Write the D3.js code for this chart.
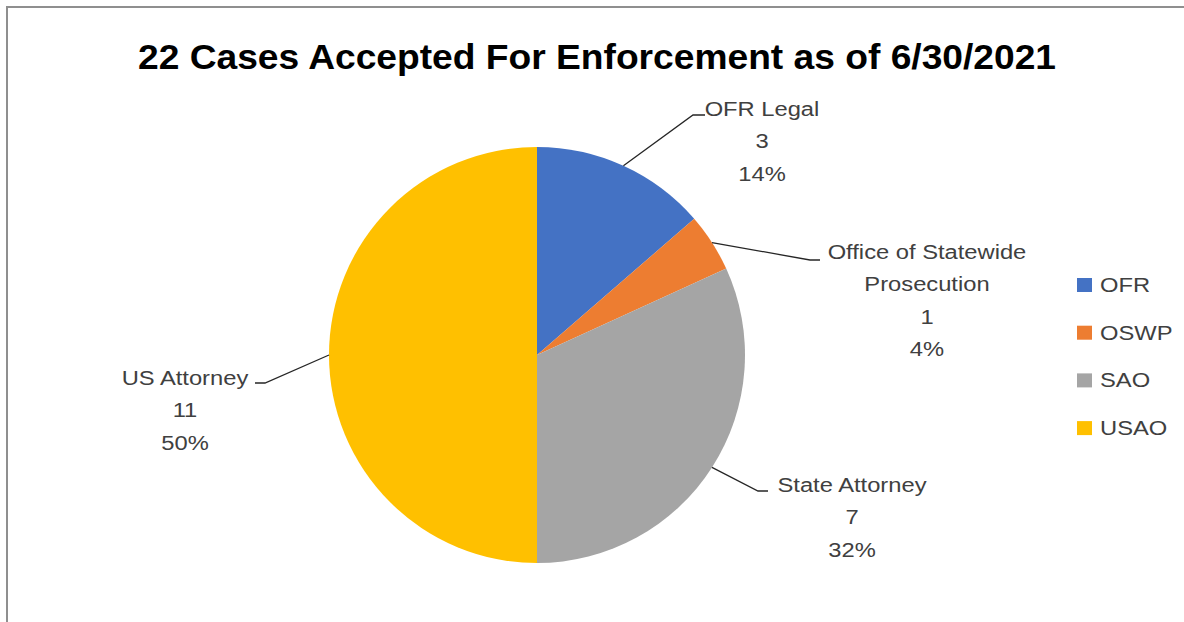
<!DOCTYPE html>
<html>
<head>
<meta charset="utf-8">
<script src="https://cdn.jsdelivr.net/npm/d3@7"></script>
<style>
  html, body { margin: 0; padding: 0; background: #fff; }
  svg { display: block; }
</style>
</head>
<body>
<svg id="chart" width="1184" height="622"></svg>
<script>
// ---- data ----
const categories = ["OFR", "OSWP", "SAO", "USAO"];
const labelNames = [["OFR Legal"], ["Office of Statewide", "Prosecution"], ["State Attorney"], ["US Attorney"]];
const values = [3, 1, 7, 11];
const percentLabels = ["14%", "4%", "32%", "50%"];
const colors = ["#4472C4", "#ED7D31", "#A5A5A5", "#FFC000"];
const titleText = "22 Cases Accepted For Enforcement as of 6/30/2021";

// ---- layout ----
const W = 1184, H = 622;
const cx = 537, cy = 355, R = 208;
const labelFont = "'Liberation Sans', Arial, sans-serif";
const titleFont = "'Liberation Sans Narrow', 'Liberation Sans', Arial, sans-serif";
const labelSize = 19.5;
const lineGap = 32.3;
// label anchor (center x, first baseline) and elbow of leader line
const labelLayout = [
  { x: 762, y: 116, elbow: [693, 115], end: [705, 115] },
  { x: 927, y: 259, elbow: [810, 260], end: [820, 260] },
  { x: 852, y: 492, elbow: [758, 491], end: [768, 491] },
  { x: 185, y: 385, elbow: [265, 383], end: [255, 383] }
];

const svg = d3.select("#chart");

// frame
svg.append("path")
  .attr("d", `M7,${H} L7,7 L${W},7`)
  .attr("fill", "none")
  .attr("stroke", "#8f8f8f")
  .attr("stroke-width", 2);

// title
const title = svg.append("text")
  .attr("x", 597).attr("y", 69)
  .attr("text-anchor", "middle")
  .attr("font-family", titleFont)
  .attr("font-weight", "bold")
  .attr("font-size", 35)
  .attr("fill", "#000")
  .text(titleText);

// pie
const pie = d3.pie().sort(null).value(d => d)(values);
const arc = d3.arc().innerRadius(0).outerRadius(R);
const g = svg.append("g").attr("transform", `translate(${cx},${cy})`);
g.selectAll("path.slice")
  .data(pie)
  .join("path")
  .attr("class", "slice")
  .attr("d", arc)
  .attr("fill", (d, i) => colors[i]);

// leader lines
pie.forEach((d, i) => {
  const a = (d.startAngle + d.endAngle) / 2;
  const sx = cx + R * Math.sin(a), sy = cy - R * Math.cos(a);
  const L = labelLayout[i];
  svg.append("polyline")
    .attr("points", [[sx, sy], L.elbow, L.end].map(p => p.join(",")).join(" "))
    .attr("fill", "none")
    .attr("stroke", "#262626")
    .attr("stroke-width", 1.3);
});

// data labels
const allTexts = [];
pie.forEach((d, i) => {
  const L = labelLayout[i];
  const lines = labelNames[i].concat([String(values[i]), percentLabels[i]]);
  lines.forEach((t, j) => {
    const tx = svg.append("text")
      .attr("x", L.x).attr("y", L.y + j * lineGap)
      .attr("text-anchor", "middle")
      .attr("font-family", labelFont)
      .attr("font-size", labelSize)
      .attr("fill", "#404040")
      .text(t);
    allTexts.push(tx);
  });
});

// legend
const legendY0 = 285, legendStep = 47.7;
categories.forEach((c, i) => {
  const y = legendY0 + i * legendStep;
  svg.append("rect")
    .attr("x", 1077).attr("y", y - 7)
    .attr("width", 15).attr("height", 14)
    .attr("fill", colors[i]);
  const tx = svg.append("text")
    .attr("x", 1100).attr("y", y + 7)
    .attr("font-family", labelFont)
    .attr("font-size", labelSize)
    .attr("fill", "#404040")
    .text(c);
  allTexts.push(tx);
});

// horizontal stretch to mimic the reference's wide glyphs
const ref = allTexts.find(t => t.text() === "State Attorney");
const k = 149 / ref.node().getComputedTextLength();
allTexts.forEach(t => {
  const w = t.node().getComputedTextLength();
  t.attr("textLength", w * k).attr("lengthAdjust", "spacingAndGlyphs");
});
title.attr("textLength", 918).attr("lengthAdjust", "spacingAndGlyphs");
</script>
</body>
</html>
